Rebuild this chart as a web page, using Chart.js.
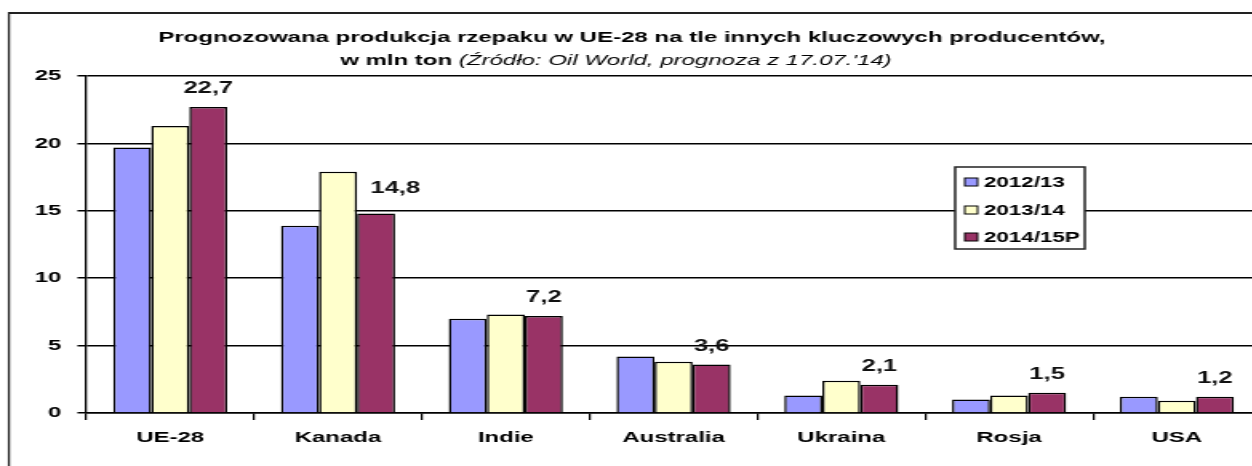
<!DOCTYPE html>
<html>
<head>
<meta charset="utf-8">
<script src="https://cdn.jsdelivr.net/npm/chart.js@4"></script>
<style>
	html, body { margin: 0; padding: 0; background: #fff; overflow: hidden; }
	#c { display: block; }
</style>
</head>
<body>
<!-- drawn narrow and stretched sideways, like the source picture -->
<canvas id="c" width="790" height="466" style="width:1264px;height:466px"></canvas>
<script>
const categories = ['UE-28', 'Kanada', 'Indie', 'Australia', 'Ukraina', 'Rosja', 'USA'];
const seriesNames = ['2012/13', '2013/14', '2014/15P'];
const values2012 = [19.7, 13.9, 7.0, 4.2, 1.3, 1.0, 1.2];
const values2013 = [21.3, 17.9, 7.3, 3.8, 2.4, 1.3, 0.9];
const values2014 = [22.7, 14.8, 7.2, 3.6, 2.1, 1.5, 1.2];
const yTicks = [0, 5, 10, 15, 20, 25];

const colors = ['#9999ff', '#ffffcc', '#993366'];
const titleLine1 = 'Prognozowana produkcja rzepaku w UE-28 na tle innych kluczowych producentów,';
const titleLine2a = 'w mln ton ';
const titleLine2b = '(Źródło: Oil World, prognoza z 17.07.\'14)';
const FONT = '"Liberation Sans", Arial, sans-serif';

const framePlugin = {
	id: 'frame',
	beforeDraw(chart) {
		const ctx = chart.ctx;
		ctx.save();
		ctx.strokeStyle = '#222';
		ctx.lineWidth = 2;
		ctx.beginPath();
		ctx.moveTo(5, 13);
		ctx.lineTo(chart.width + 5, 13);
		ctx.stroke();
		ctx.lineWidth = 1.3;
		ctx.beginPath();
		ctx.moveTo(5.6, 12);
		ctx.lineTo(5.6, chart.height + 5);
		ctx.stroke();

		// title
		ctx.fillStyle = '#000';
		ctx.textBaseline = 'alphabetic';
		ctx.textAlign = 'center';
		ctx.font = 'bold 15px ' + FONT;
		ctx.fillText(titleLine1, 395, 42);

		ctx.textAlign = 'left';
		ctx.font = 'bold 15px ' + FONT;
		const wa = ctx.measureText(titleLine2a).width;
		ctx.font = 'italic 15px ' + FONT;
		const wb = ctx.measureText(titleLine2b).width;
		let x = 385 - (wa + wb) / 2;
		ctx.font = 'bold 15px ' + FONT;
		ctx.fillText(titleLine2a, x, 65);
		ctx.font = 'italic 15px ' + FONT;
		ctx.fillText(titleLine2b, x + wa, 65);
		ctx.restore();
	}
};

const labelPlugin = {
	id: 'valueLabels',
	afterDatasetsDraw(chart) {
		const ctx = chart.ctx;
		const meta = chart.getDatasetMeta(2);
		const prev = chart.getDatasetMeta(1);
		ctx.save();
		ctx.font = 'bold 16px ' + FONT;
		ctx.fillStyle = '#111';
		ctx.textAlign = 'center';
		ctx.textBaseline = 'middle';
		meta.data.forEach((bar, i) => {
			const txt = values2014[i].toFixed(1).replace('.', ',');
			let x = bar.x;
			let y = bar.y - 18;
			// move the label aside when the neighbouring bar would cover it
			if (prev.data[i].y < y + 8) {
				x += 12;
				y -= 7;
			}
			ctx.fillText(txt, x, y);
		});
		ctx.restore();
	}
};

const legendPlugin = {
	id: 'boxLegend',
	afterDraw(chart) {
		const ctx = chart.ctx;
		ctx.save();
		ctx.fillStyle = '#fff';
		ctx.fillRect(597, 167, 81, 82);
		ctx.strokeStyle = '#222';
		ctx.lineWidth = 1.5;
		ctx.strokeRect(597, 167, 81, 82);
		ctx.font = 'bold 14px ' + FONT;
		ctx.textBaseline = 'middle';
		ctx.textAlign = 'left';
		const rows = [182, 210, 237];
		seriesNames.forEach((name, i) => {
			ctx.fillStyle = colors[i];
			ctx.fillRect(603, rows[i] - 4, 8, 8);
			ctx.lineWidth = 1;
			ctx.strokeStyle = '#000';
			ctx.strokeRect(603, rows[i] - 4, 8, 8);
			ctx.fillStyle = '#000';
			ctx.fillText(name, 615, rows[i] + 1);
		});
		ctx.restore();
	}
};

new Chart(document.getElementById('c'), {
	type: 'bar',
	data: {
		labels: categories,
		datasets: [
			{ label: seriesNames[0], data: values2012, backgroundColor: colors[0] },
			{ label: seriesNames[1], data: values2013, backgroundColor: colors[1] },
			{ label: seriesNames[2], data: values2014, backgroundColor: colors[2] }
		]
	},
	options: {
		responsive: false,
		devicePixelRatio: 1,
		animation: false,
		layout: { padding: { top: 76, right: 2, left: 0, bottom: 0 } },
		datasets: {
			bar: {
				borderColor: '#000',
				borderWidth: 1.5,
				categoryPercentage: 0.68,
				barPercentage: 1
			}
		},
		plugins: {
			legend: { display: false },
			title: { display: false },
			tooltip: { enabled: false }
		},
		scales: {
			x: {
				grid: {
					offset: true,
					drawOnChartArea: false,
					color: '#000',
					lineWidth: 1.25,
					tickLength: 7
				},
				border: { color: '#000', width: 1.5 },
				ticks: {
					color: '#000',
					padding: 9,
					font: { family: FONT, size: 15, weight: 'bold' }
				},
				afterFit(scale) { scale.height = 53; }
			},
			y: {
				min: 0,
				max: 25,
				afterBuildTicks(scale) { scale.ticks = yTicks.map(v => ({ value: v })); },
				grid: {
					color: '#000',
					lineWidth: 1.5,
					tickLength: 5.6
				},
				border: { color: '#000', width: 1.3 },
				ticks: {
					color: '#000',
					padding: 10,
					font: { family: FONT, size: 15, weight: 'bold' }
				},
				afterFit(scale) { scale.width = 54; }
			}
		}
	},
	plugins: [framePlugin, labelPlugin, legendPlugin]
});
</script>
</body>
</html>
